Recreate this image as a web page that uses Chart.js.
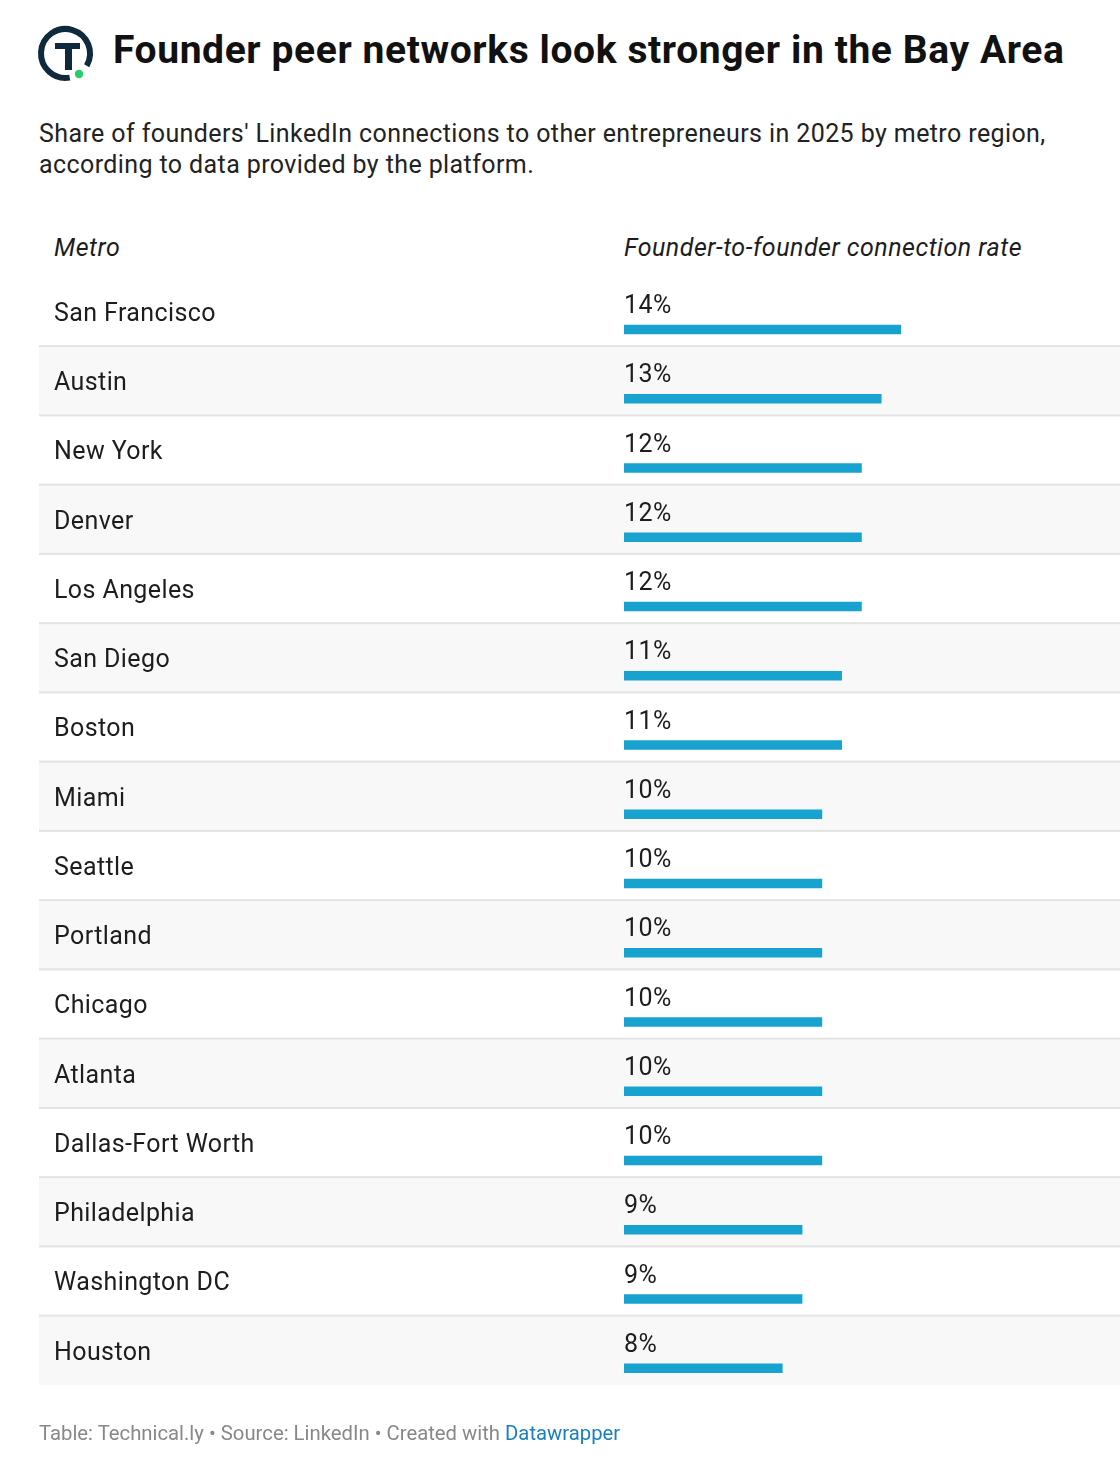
<!DOCTYPE html>
<html>
<head>
<meta charset="utf-8">
<script src="https://cdn.jsdelivr.net/npm/chart.js@4"></script>
<style>
  body { margin: 0; background: #fff; font-family: Roboto, sans-serif; color: #1d1d1d; }
  #page { position: relative; width: 1120px; height: 1478px; overflow: hidden; }
  .abs { position: absolute; white-space: nowrap; }
  #title { left: 113px; top: 27px; font-size: 39px; letter-spacing: 0.6px; font-weight: bold; color: #111; line-height: 46px; }
  #subtitle { left: 39px; top: 118px; font-size: 25px; letter-spacing: 0.4px; line-height: 31px; color: #222; white-space: normal; width: 1030px; }
  .hdr { top: 233px; font-size: 25px; letter-spacing: 0.5px; font-style: italic; line-height: 30px; color: #1d1d1d; }
  #footer { left: 39px; top: 1420px; font-size: 20.3px; color: #888; line-height: 26px; }
  #footer a { color: #1a7fc1; text-decoration: none; }
  #wrap { position: absolute; left: 39px; top: 200px; width: 1081px; height: 1228px; }
</style>
</head>
<body>
<div id="page">
  <svg class="abs" style="left:0;top:0" width="110" height="100">
    <path d="M 69.75 77.6 A 24.5 24.5 0 1 1 86.7 65.75" fill="none" stroke="#0f2a3d" stroke-width="6"/>
    <rect x="55" y="43" width="25" height="6" fill="#0f2a3d"/>
    <rect x="65" y="43" width="7" height="27" fill="#0f2a3d"/>
    <circle cx="79" cy="74" r="4.2" fill="#22d06a"/>
  </svg>
  <div id="title" class="abs">Founder peer networks look stronger in the Bay Area</div>
  <div id="subtitle" class="abs">Share of founders' LinkedIn connections to other entrepreneurs in 2025 by metro region, according to data provided by the platform.</div>
  <div class="abs hdr" style="left:54px">Metro</div>
  <div class="abs hdr" style="left:624px">Founder-to-founder connection rate</div>
  <div id="wrap"><canvas id="chart"></canvas></div>
  <div id="footer" class="abs">Table: Technical.ly • Source: LinkedIn • Created with <a href="#">Datawrapper</a></div>
</div>
<script>
const metros = ['San Francisco', 'Austin', 'New York', 'Denver', 'Los Angeles', 'San Diego', 'Boston', 'Miami',
  'Seattle', 'Portland', 'Chicago', 'Atlanta', 'Dallas-Fort Worth', 'Philadelphia', 'Washington DC', 'Houston'];
const rates = [14, 13, 12, 12, 12, 11, 11, 10, 10, 10, 10, 10, 10, 9, 9, 8];

const rowShift = 18;   // row centre sits above the bar centre
const rowHalf = 34.63;

const tablePlugin = {
  id: 'tablePlugin',
  beforeDraw(chart) {
    const ctx = chart.ctx;
    const y = chart.scales.y;
    ctx.letterSpacing = '0.4px';
    ctx.save();
    metros.forEach((m, i) => {
      const top = y.getPixelForValue(i) - rowShift - rowHalf;
      if (i % 2 === 1) {
        ctx.fillStyle = '#f8f8f8';
        ctx.fillRect(0, top, chart.width, rowHalf * 2);
      }
      if (i > 0) {
        ctx.fillStyle = '#e3e3e3';
        ctx.fillRect(0, top - 1, chart.width, 2);
      }
    });
    ctx.restore();
  },
  afterDatasetsDraw(chart) {
    const ctx = chart.ctx;
    const meta = chart.getDatasetMeta(0);
    ctx.save();
    ctx.font = '25px Roboto';
    ctx.fillStyle = '#1d1d1d';
    ctx.textAlign = 'left';
    ctx.textBaseline = 'alphabetic';
    meta.data.forEach((bar, i) => {
      ctx.fillText(rates[i] + '%', chart.chartArea.left, bar.y - 16.5);
    });
    ctx.restore();
  }
};

new Chart(document.getElementById('chart'), {
  type: 'bar',
  data: {
    labels: metros,
    datasets: [{
      data: rates,
      backgroundColor: '#17a2cf',
      barThickness: 9,
      borderWidth: 0
    }]
  },
  options: {
    indexAxis: 'y',
    responsive: true,
    maintainAspectRatio: false,
    animation: false,
    events: [],
    layout: { padding: { left: 15, right: 219, top: 94.9, bottom: 25.1 } },
    plugins: { legend: { display: false }, tooltip: { enabled: false } },
    scales: {
      x: { display: false, min: 0, max: 14 },
      y: {
        grid: { display: false },
        border: { display: false },
        afterFit(scale) { scale.width = 570; },
        ticks: {
          crossAlign: 'far',
          labelOffset: -15,
          color: '#1d1d1d',
          font: { family: 'Roboto', size: 25 }
        }
      }
    }
  },
  plugins: [tablePlugin]
});
</script>
</body>
</html>
